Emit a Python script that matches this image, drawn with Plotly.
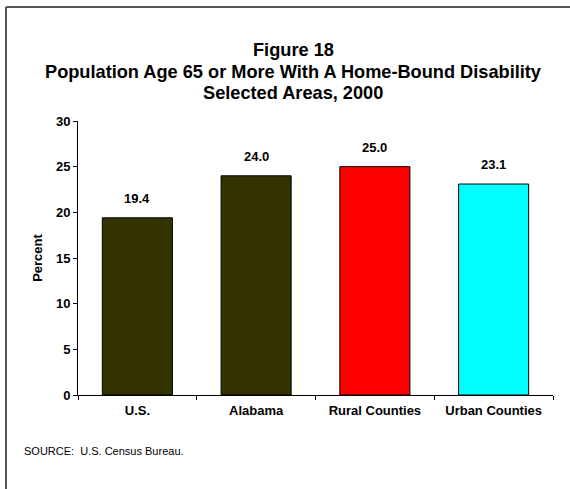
import plotly.graph_objects as go

categories = ["U.S.", "Alabama", "Rural Counties", "Urban Counties"]
values = [19.4, 24.0, 25.0, 23.1]
bar_colors = ["#333300", "#333300", "#FF0000", "#00FFFF"]
value_labels = ["19.4", "24.0", "25.0", "23.1"]
y_ticks = [0, 5, 10, 15, 20, 25, 30]
title_lines = [
    "Figure 18",
    "Population Age 65 or More With A Home-Bound Disability",
    "Selected Areas, 2000",
]

FONT = "Liberation Sans, Arial, sans-serif"
W, H = 570, 489
L, R, T, B = 78, 17, 121, 94
pw, ph = W - L - R, H - T - B


def px_to_paper_x(px):
    return (px - L) / pw


def px_to_paper_y(py):
    return (H - B - py) / ph


fig = go.Figure()
fig.add_trace(go.Bar(
    x=categories,
    y=values,
    width=0.59,
    marker=dict(color=bar_colors, line=dict(color="#000000", width=1)),
    hoverinfo="skip",
))

annotations = []
for cat, v, lab in zip(categories, values, value_labels):
    annotations.append(dict(
        x=cat, y=v, xref="x", yref="y", text="<b>%s</b>" % lab,
        showarrow=False, yanchor="bottom", yshift=10,
        font=dict(family=FONT, size=13, color="#000000"),
    ))

# Three-line heading, one annotation per line for tight spacing
for line, ypx in zip(title_lines, [50, 71.5, 93]):
    annotations.append(dict(
        x=px_to_paper_x(293), y=px_to_paper_y(ypx), xref="paper", yref="paper",
        text="<b>%s</b>" % line,
        showarrow=False, xanchor="center", yanchor="middle", align="center",
        font=dict(family=FONT, size=18.2, color="#000000"),
    ))

annotations.append(dict(
    x=px_to_paper_x(22), y=px_to_paper_y(451), xref="paper", yref="paper",
    text="SOURCE:  U.S. Census Bureau.",
    showarrow=False, xanchor="left", yanchor="middle",
    font=dict(family=FONT, size=11, color="#000000"),
))

# Frame lines along the top and left edges of the figure
frame = [
    dict(type="line", xref="paper", yref="paper",
         x0=px_to_paper_x(6), y0=px_to_paper_y(7),
         x1=px_to_paper_x(575), y1=px_to_paper_y(7),
         line=dict(color="#555555", width=2)),
    dict(type="line", xref="paper", yref="paper",
         x0=px_to_paper_x(6), y0=px_to_paper_y(7),
         x1=px_to_paper_x(6), y1=px_to_paper_y(495),
         line=dict(color="#555555", width=2)),
]

fig.update_layout(
    width=W, height=H,
    margin=dict(l=L, r=R, t=T, b=B, pad=0),
    paper_bgcolor="#FFFFFF", plot_bgcolor="#FFFFFF",
    showlegend=False,
    bargap=0.41,
    annotations=annotations,
    shapes=frame,
    font=dict(family=FONT, size=13, color="#000000"),
)

fig.update_xaxes(
    showline=True, linecolor="#000000", linewidth=1,
    ticks="outside", ticklen=4, tickcolor="#000000", tickson="boundaries",
    ticklabelstandoff=3,
    tickfont=dict(family=FONT, size=13, color="#000000"),
    tickvals=categories, ticktext=["<b>%s</b>" % c for c in categories],
    showgrid=False, zeroline=False, fixedrange=True,
)

fig.update_yaxes(
    range=[0, 30],
    tickvals=y_ticks, ticktext=["<b>%d</b>" % t for t in y_ticks],
    showline=True, linecolor="#000000", linewidth=1,
    ticks="outside", ticklen=4, tickcolor="#000000",
    tickfont=dict(family=FONT, size=13, color="#000000"),
    title=dict(text="<b>Percent</b>", font=dict(family=FONT, size=13, color="#000000"), standoff=10),
    showgrid=False, zeroline=False, fixedrange=True,
)

fig.write_html("out.html")
